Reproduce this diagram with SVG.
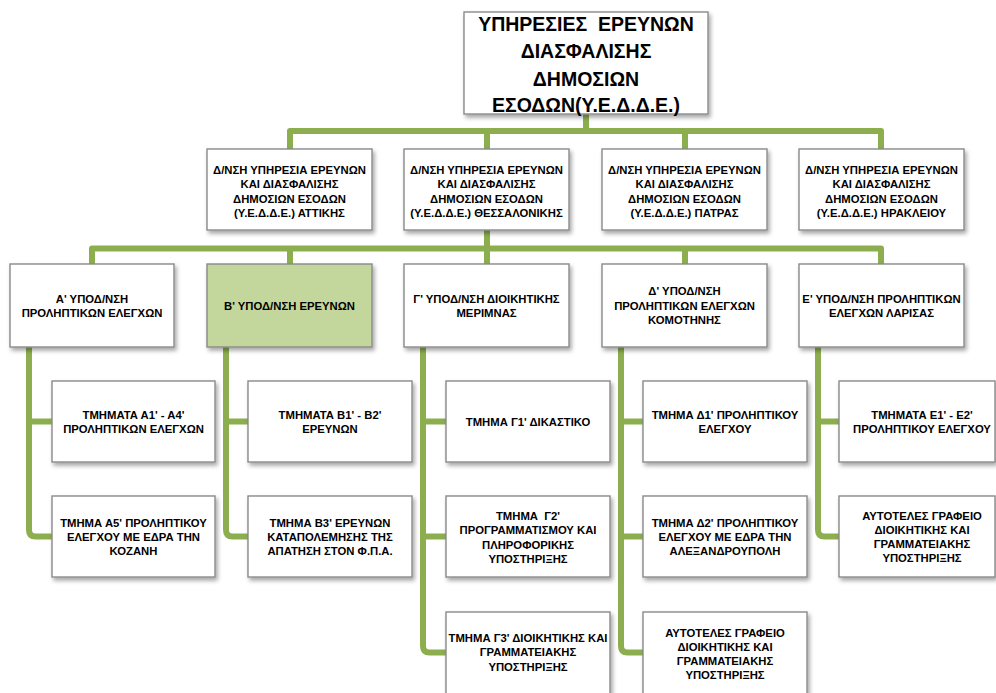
<svg xmlns="http://www.w3.org/2000/svg" width="996" height="693" viewBox="0 0 996 693">
<defs>
<filter id="sh" x="-10%" y="-10%" width="125%" height="135%">
<feDropShadow dx="2" dy="3" stdDeviation="2" flood-color="#000" flood-opacity="0.35"/>
</filter>
<style>
.box{fill:#ffffff;stroke:#8a8a8a;stroke-width:1.4;filter:url(#sh)}
.sel{fill:#c3d69b}
.ln{fill:none;stroke:#8dae4f;stroke-width:6;stroke-linejoin:round;stroke-linecap:butt}
.t{font-family:"Liberation Sans",Arial,sans-serif;font-weight:bold;font-size:11.3px;text-anchor:middle;fill:#000;white-space:pre}
.title{font-size:19.5px}
</style>
</defs>
<rect width="996" height="693" fill="#ffffff"/>
<g id="connectors">
<path class="ln" d="M586,114 V131"/>
<path class="ln" d="M290,149 V131 H881 V149"/>
<path class="ln" d="M487,131 V149"/>
<path class="ln" d="M685,131 V149"/>
<path class="ln" d="M487,230 V248.5"/>
<path class="ln" d="M92,264 V248.5 H881 V264"/>
<path class="ln" d="M290,248.5 V264"/>
<path class="ln" d="M487,248.5 V264"/>
<path class="ln" d="M685,248.5 V264"/>
<path class="ln" d="M29,347 V530 Q29,536.5 35.5,536.5 H52"/>
<path class="ln" d="M29,421.5 H52"/>
<path class="ln" d="M226,347 V530 Q226,536.5 232.5,536.5 H248"/>
<path class="ln" d="M226,421.5 H248"/>
<path class="ln" d="M423,347 V646 Q423,652.5 429.5,652.5 H446"/>
<path class="ln" d="M423,421.5 H446"/>
<path class="ln" d="M423,536.5 H446"/>
<path class="ln" d="M621,347 V646 Q621,652.5 627.5,652.5 H643"/>
<path class="ln" d="M621,421.5 H643"/>
<path class="ln" d="M621,536.5 H643"/>
<path class="ln" d="M818,347 V530 Q818,536.5 824.5,536.5 H839"/>
<path class="ln" d="M818,421.5 H839"/>
</g>
<g id="n-root">
<rect class="box" x="464" y="12" width="244" height="102"/>
<text class="t title"><tspan x="586" y="31">ΥΠΗΡΕΣΙΕΣ  ΕΡΕΥΝΩΝ</tspan><tspan x="586" y="58">ΔΙΑΣΦΑΛΙΣΗΣ</tspan><tspan x="586" y="86">ΔΗΜΟΣΙΩΝ</tspan><tspan x="586" y="112">ΕΣΟΔΩΝ(Υ.Ε.Δ.Δ.Ε.)</tspan></text>
</g>
<g id="n-attikis">
<rect class="box" x="207" y="149" width="165" height="81"/>
<text class="t"><tspan x="289.5" y="173.5">Δ/ΝΣΗ ΥΠΗΡΕΣΙΑ ΕΡΕΥΝΩΝ</tspan><tspan x="289.5" y="188">ΚΑΙ ΔΙΑΣΦΑΛΙΣΗΣ</tspan><tspan x="289.5" y="202.5">ΔΗΜΟΣΙΩΝ ΕΣΟΔΩΝ</tspan><tspan x="289.5" y="217">(Υ.Ε.Δ.Δ.Ε.) ΑΤΤΙΚΗΣ</tspan></text>
</g>
<g id="n-thess">
<rect class="box" x="404" y="149" width="165" height="81"/>
<text class="t"><tspan x="486.5" y="173.5">Δ/ΝΣΗ ΥΠΗΡΕΣΙΑ ΕΡΕΥΝΩΝ</tspan><tspan x="486.5" y="188">ΚΑΙ ΔΙΑΣΦΑΛΙΣΗΣ</tspan><tspan x="486.5" y="202.5">ΔΗΜΟΣΙΩΝ ΕΣΟΔΩΝ</tspan><tspan x="486.5" y="217">(Υ.Ε.Δ.Δ.Ε.) ΘΕΣΣΑΛΟΝΙΚΗΣ</tspan></text>
</g>
<g id="n-patras">
<rect class="box" x="602" y="149" width="165" height="81"/>
<text class="t"><tspan x="684.5" y="173.5">Δ/ΝΣΗ ΥΠΗΡΕΣΙΑ ΕΡΕΥΝΩΝ</tspan><tspan x="684.5" y="188">ΚΑΙ ΔΙΑΣΦΑΛΙΣΗΣ</tspan><tspan x="684.5" y="202.5">ΔΗΜΟΣΙΩΝ ΕΣΟΔΩΝ</tspan><tspan x="684.5" y="217">(Υ.Ε.Δ.Δ.Ε.) ΠΑΤΡΑΣ</tspan></text>
</g>
<g id="n-herakleio">
<rect class="box" x="799" y="149" width="165" height="81"/>
<text class="t"><tspan x="881.5" y="173.5">Δ/ΝΣΗ ΥΠΗΡΕΣΙΑ ΕΡΕΥΝΩΝ</tspan><tspan x="881.5" y="188">ΚΑΙ ΔΙΑΣΦΑΛΙΣΗΣ</tspan><tspan x="881.5" y="202.5">ΔΗΜΟΣΙΩΝ ΕΣΟΔΩΝ</tspan><tspan x="881.5" y="217">(Υ.Ε.Δ.Δ.Ε.) ΗΡΑΚΛΕΙΟΥ</tspan></text>
</g>
<g id="n-a">
<rect class="box" x="10" y="264" width="164" height="83"/>
<text class="t"><tspan x="92" y="302.5">Α' ΥΠΟΔ/ΝΣΗ</tspan><tspan x="92" y="316.8">ΠΡΟΛΗΠΤΙΚΩΝ ΕΛΕΓΧΩΝ</tspan></text>
</g>
<g id="n-b">
<rect class="box sel" x="207" y="264" width="165" height="83"/>
<text class="t"><tspan x="289.5" y="309.5">Β' ΥΠΟΔ/ΝΣΗ ΕΡΕΥΝΩΝ</tspan></text>
</g>
<g id="n-g">
<rect class="box" x="404" y="264" width="165" height="83"/>
<text class="t"><tspan x="486.5" y="302.5">Γ' ΥΠΟΔ/ΝΣΗ ΔΙΟΙΚΗΤΙΚΗΣ</tspan><tspan x="486.5" y="316.8">ΜΕΡΙΜΝΑΣ</tspan></text>
</g>
<g id="n-d">
<rect class="box" x="602" y="264" width="165" height="83"/>
<text class="t"><tspan x="684.5" y="295.2">Δ' ΥΠΟΔ/ΝΣΗ</tspan><tspan x="684.5" y="309.5">ΠΡΟΛΗΠΤΙΚΩΝ ΕΛΕΓΧΩΝ</tspan><tspan x="684.5" y="323.8">ΚΟΜΟΤΗΝΗΣ</tspan></text>
</g>
<g id="n-e">
<rect class="box" x="799" y="264" width="165" height="83"/>
<text class="t"><tspan x="881.5" y="302.5">Ε' ΥΠΟΔ/ΝΣΗ ΠΡΟΛΗΠΤΙΚΩΝ</tspan><tspan x="881.5" y="316.8">ΕΛΕΓΧΩΝ ΛΑΡΙΣΑΣ</tspan></text>
</g>
<g id="n-a1">
<rect class="box" x="52" y="381" width="163" height="81"/>
<text class="t"><tspan x="133.5" y="418.5">ΤΜΗΜΑΤΑ Α1' - Α4'</tspan><tspan x="133.5" y="432.8">ΠΡΟΛΗΠΤΙΚΩΝ ΕΛΕΓΧΩΝ</tspan></text>
</g>
<g id="n-a5">
<rect class="box" x="52" y="496" width="163" height="81"/>
<text class="t"><tspan x="133.5" y="526.5">ΤΜΗΜΑ Α5' ΠΡΟΛΗΠΤΙΚΟΥ</tspan><tspan x="133.5" y="540.8">ΕΛΕΓΧΟΥ ΜΕ ΕΔΡΑ ΤΗΝ</tspan><tspan x="133.5" y="555.1">ΚΟΖΑΝΗ</tspan></text>
</g>
<g id="n-b1">
<rect class="box" x="248" y="381" width="164" height="81"/>
<text class="t"><tspan x="330" y="418.5">ΤΜΗΜΑΤΑ Β1' - Β2'</tspan><tspan x="330" y="432.8">ΕΡΕΥΝΩΝ</tspan></text>
</g>
<g id="n-b3">
<rect class="box" x="248" y="496" width="164" height="81"/>
<text class="t"><tspan x="330" y="526.5">ΤΜΗΜΑ Β3' ΕΡΕΥΝΩΝ</tspan><tspan x="330" y="540.8">ΚΑΤΑΠΟΛΕΜΗΣΗΣ ΤΗΣ</tspan><tspan x="330" y="555.1">ΑΠΑΤΗΣΗ ΣΤΟΝ Φ.Π.Α.</tspan></text>
</g>
<g id="n-g1">
<rect class="box" x="446" y="381" width="164" height="81"/>
<text class="t"><tspan x="528" y="426">ΤΜΗΜΑ Γ1' ΔΙΚΑΣΤΙΚΟ</tspan></text>
</g>
<g id="n-g2">
<rect class="box" x="446" y="496" width="164" height="81"/>
<text class="t"><tspan x="528" y="520">ΤΜΗΜΑ  Γ2'</tspan><tspan x="528" y="534.3">ΠΡΟΓΡΑΜΜΑΤΙΣΜΟΥ ΚΑΙ</tspan><tspan x="528" y="548.6">ΠΛΗΡΟΦΟΡΙΚΗΣ</tspan><tspan x="528" y="562.9">ΥΠΟΣΤΗΡΙΞΗΣ</tspan></text>
</g>
<g id="n-g3">
<rect class="box" x="446" y="612" width="164" height="84"/>
<text class="t"><tspan x="528" y="642">ΤΜΗΜΑ Γ3' ΔΙΟΙΚΗΤΙΚΗΣ ΚΑΙ</tspan><tspan x="528" y="656.3">ΓΡΑΜΜΑΤΕΙΑΚΗΣ</tspan><tspan x="528" y="670.6">ΥΠΟΣΤΗΡΙΞΗΣ</tspan></text>
</g>
<g id="n-d1">
<rect class="box" x="643" y="381" width="164" height="81"/>
<text class="t"><tspan x="725" y="418.5">ΤΜΗΜΑ Δ1' ΠΡΟΛΗΠΤΙΚΟΥ</tspan><tspan x="725" y="432.8">ΕΛΕΓΧΟΥ</tspan></text>
</g>
<g id="n-d2">
<rect class="box" x="643" y="496" width="164" height="81"/>
<text class="t"><tspan x="725" y="526.5">ΤΜΗΜΑ Δ2' ΠΡΟΛΗΠΤΙΚΟΥ</tspan><tspan x="725" y="540.8">ΕΛΕΓΧΟΥ ΜΕ ΕΔΡΑ ΤΗΝ</tspan><tspan x="725" y="555.1">ΑΛΕΞΑΝΔΡΟΥΠΟΛΗ</tspan></text>
</g>
<g id="n-d3">
<rect class="box" x="643" y="612" width="164" height="84"/>
<text class="t"><tspan x="725" y="636.5">ΑΥΤΟΤΕΛΕΣ ΓΡΑΦΕΙΟ</tspan><tspan x="725" y="650.8">ΔΙΟΙΚΗΤΙΚΗΣ ΚΑΙ</tspan><tspan x="725" y="665.1">ΓΡΑΜΜΑΤΕΙΑΚΗΣ</tspan><tspan x="725" y="679.4">ΥΠΟΣΤΗΡΙΞΗΣ</tspan></text>
</g>
<g id="n-e1">
<rect class="box" x="839" y="381" width="156" height="81"/>
<text class="t"><tspan x="922" y="418.5">ΤΜΗΜΑΤΑ Ε1' - Ε2'</tspan><tspan x="922" y="432.8">ΠΡΟΛΗΠΤΙΚΟΥ ΕΛΕΓΧΟΥ</tspan></text>
</g>
<g id="n-e2">
<rect class="box" x="839" y="496" width="156" height="81"/>
<text class="t"><tspan x="922" y="519.5">ΑΥΤΟΤΕΛΕΣ ΓΡΑΦΕΙΟ</tspan><tspan x="922" y="533.8">ΔΙΟΙΚΗΤΙΚΗΣ ΚΑΙ</tspan><tspan x="922" y="548.1">ΓΡΑΜΜΑΤΕΙΑΚΗΣ</tspan><tspan x="922" y="562.4">ΥΠΟΣΤΗΡΙΞΗΣ</tspan></text>
</g>
</svg>
